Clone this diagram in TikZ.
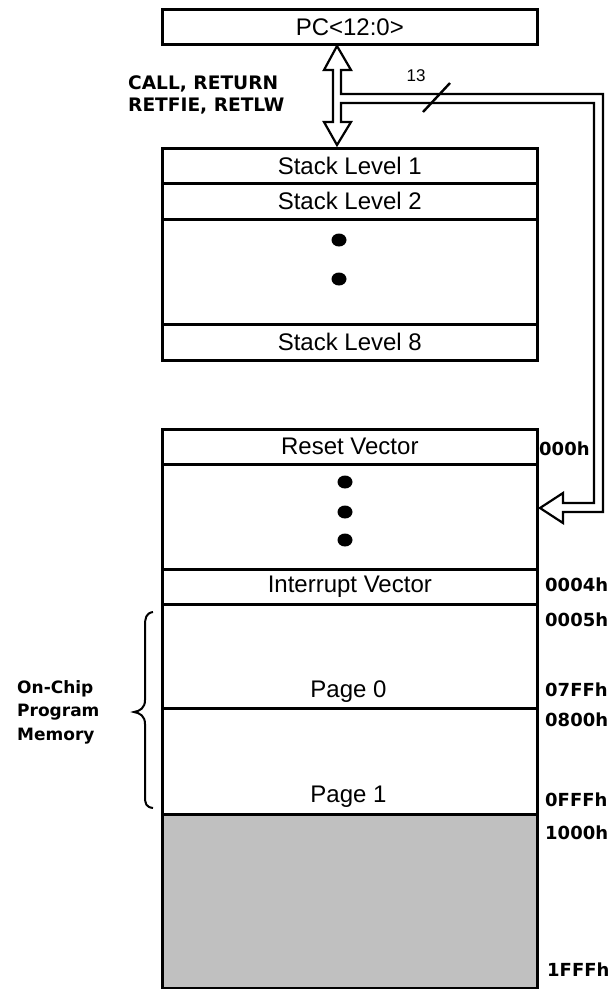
\documentclass[tikz,border=0pt]{standalone}
\usepackage{fontspec}
\setmainfont{Liberation Sans}
\newfontfamily\blab{DejaVu Sans}
\usetikzlibrary{shapes.geometric}
\definecolor{unimp}{HTML}{C0C0C0}
\begin{document}
\begin{tikzpicture}[x=1pt,y=-1pt,
  row/.style={draw, line width=2.6pt, minimum width=375pt, inner sep=0pt, anchor=north west,
    font=\fontsize{24}{24}\selectfont},
  lbl/.style={font=\fontsize{24}{24}\selectfont, inner sep=0pt},
  addr/.style={anchor=west, inner sep=0pt, font=\blab\bfseries\fontsize{18}{18}\selectfont},
  dotm/.style={fill, ellipse, minimum width=15pt, minimum height=13pt, inner sep=0pt},
  hollow/.style={draw, line width=2.2pt, fill=white, line join=miter}]
\useasboundingbox (0,0) rectangle (614,989);

% PC
\node[row, minimum height=35pt] (pc) at (161,8) {PC<12:0>};

% hollow double arrow with bus branch
\draw[hollow] (337,46) -- (351,70) -- (341,70) -- (341,94) -- (603,94) -- (603,512)
  -- (563,512) -- (563,523) -- (540,508) -- (563,493) -- (563,503) -- (594,503)
  -- (594,103) -- (341,103) -- (341,122) -- (351,122) -- (337,145) -- (324,122)
  -- (333,122) -- (333,70) -- (324,70) -- cycle;
\draw[line width=2.4pt] (423,112) -- (450,83);
\node[inner sep=0pt, font=\fontsize{17}{17}\selectfont] (w13) at (416,76) {13};

\node[align=left, anchor=west, inner sep=0pt, font=\blab\bfseries\fontsize{18.6}{22}\selectfont] (ops) at (128,95)
  {CALL, RETURN\\RETFIE, RETLW};

% stack
\node[row, minimum height=35pt] (s1) at (161,147) {Stack Level 1};
\node[row, minimum height=36pt] (s2) at (161,182) {Stack Level 2};
\node[row, minimum height=105pt] (sd) at (161,218) {};
\node[row, minimum height=36pt] (s8) at (161,323) {Stack Level 8};
\node[dotm] (sd1) at (339,240) {};
\node[dotm] (sd2) at (339,279) {};

% program memory
\node[row, minimum height=35pt] (rv) at (161,428) {Reset Vector};
\node[row, minimum height=105pt] (md) at (161,463) {};
\node[row, minimum height=35pt] (iv) at (161,568) {Interrupt Vector};
\node[row, minimum height=104pt] (p0) at (161,603) {};
\node[row, minimum height=106pt] (p1) at (161,707) {};
\node[row, minimum height=174pt, fill=unimp] (un) at (161,813) {};
\node[lbl] (p0t) at (348.5,692) {Page 0};
\node[lbl] (p1t) at (348.5,797) {Page 1};
\node[dotm] (md1) at (345,482) {};
\node[dotm] (md2) at (345,512) {};
\node[dotm] (md3) at (345,540) {};

% addresses
\node[addr] (a0) at (539,449) {000h};
\node[addr] (a4) at (545,585) {0004h};
\node[addr] (a5) at (545,620) {0005h};
\node[addr] (a7) at (545,690) {07FFh};
\node[addr] (a8) at (545,720) {0800h};
\node[addr] (af) at (545,800) {0FFFh};
\node[addr] (a1) at (545,833) {1000h};
\node[addr] (a2) at (547,970) {1FFFh};

% brace and label
\draw[line width=2pt] (153,612) .. controls (146,613) and (145,618) .. (145,626) -- (145,700)
  .. controls (145,708) and (140,711) .. (134,712) .. controls (140,713) and (145,716) .. (145,724)
  -- (145,796) .. controls (145,804) and (146,807) .. (153,808);
\node[align=left, anchor=west, inner sep=0pt, font=\blab\bfseries\fontsize{17}{23.5}\selectfont] (ocpm) at (17,712)
  {On-Chip\\Program\\Memory};
\end{tikzpicture}
\end{document}
